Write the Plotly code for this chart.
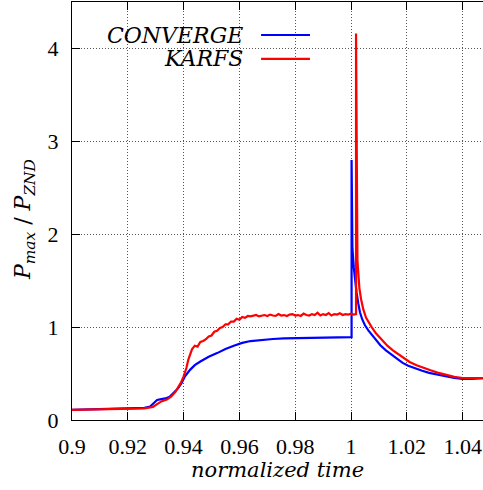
import plotly.graph_objects as go

# CONVERGE: normalized time vs peak pressure ratio
t_converge = [0.900, 0.910, 0.920, 0.926, 0.928, 0.9295, 0.9305, 0.932, 0.9335, 0.935,
              0.9365, 0.938, 0.9393, 0.9405, 0.9423, 0.944, 0.946, 0.949, 0.952, 0.955,
              0.958, 0.961, 0.964, 0.968, 0.972, 0.976, 0.982, 0.990, 0.9995, 1.0002,
              1.0002, 1.0005, 1.0010, 1.0015, 1.0020, 1.0026, 1.0032, 1.0040, 1.0050,
              1.0062, 1.0075, 1.0090, 1.0105, 1.0125, 1.0145, 1.0165, 1.0185, 1.0205,
              1.0230, 1.0255, 1.0280, 1.0310, 1.0340, 1.0370, 1.0400, 1.0430, 1.0475]
p_converge = [0.110, 0.115, 0.122, 0.130, 0.145, 0.190, 0.215, 0.225, 0.232, 0.250,
              0.290, 0.340, 0.400, 0.470, 0.540, 0.590, 0.630, 0.680, 0.720, 0.765,
              0.800, 0.830, 0.850, 0.865, 0.872, 0.878, 0.883, 0.888, 0.892, 0.892,
              2.800, 1.850, 1.640, 1.490, 1.370, 1.255, 1.160, 1.085, 1.020,
              0.965, 0.915, 0.860, 0.805, 0.750, 0.705, 0.650, 0.615, 0.585,
              0.555, 0.530, 0.508, 0.487, 0.466, 0.452, 0.443, 0.442, 0.450]

# KARFS: normalized time vs peak pressure ratio
t_karfs = [0.900, 0.910, 0.920, 0.926, 0.929, 0.9305, 0.932, 0.934, 0.9355, 0.937,
           0.938, 0.939, 0.940, 0.941, 0.9417, 0.9425,
           0.943, 0.944, 0.945, 0.946, 0.947, 0.948, 0.949, 0.950, 0.951, 0.952,
           0.953, 0.954, 0.955, 0.956, 0.957, 0.958, 0.959, 0.960, 0.961, 0.962,
           0.963, 0.964, 0.965, 0.966, 0.967, 0.968, 0.969, 0.970, 0.971, 0.972,
           0.973, 0.974, 0.975, 0.976, 0.977, 0.978, 0.979, 0.980, 0.981, 0.982,
           0.983, 0.984, 0.985, 0.986, 0.987, 0.988, 0.989, 0.990, 0.991, 0.992,
           0.993, 0.994, 0.995, 0.996, 0.997, 0.998, 0.999, 1.000, 1.001, 1.0018,
           1.0018, 1.0023, 1.0026, 1.0030, 1.0036, 1.0044, 1.0054, 1.0065, 1.0074,
           1.0090, 1.0110, 1.0130, 1.0150, 1.0170, 1.0190, 1.0210, 1.0235, 1.0260,
           1.0285, 1.0310, 1.0340, 1.0370, 1.0400, 1.0430, 1.0475]
p_karfs = [0.110, 0.113, 0.118, 0.125, 0.140, 0.170, 0.200, 0.220, 0.250, 0.300,
           0.350, 0.400, 0.470, 0.560, 0.650, 0.720,
           0.760, 0.800, 0.790, 0.840, 0.850, 0.870, 0.900, 0.910, 0.950, 0.960,
           0.990, 1.000, 1.030, 1.030, 1.060, 1.060, 1.090, 1.080, 1.110, 1.100,
           1.120, 1.115, 1.120, 1.130, 1.115, 1.125, 1.130, 1.120, 1.135, 1.125,
           1.120, 1.140, 1.125, 1.130, 1.120, 1.135, 1.140, 1.125, 1.130, 1.120,
           1.145, 1.130, 1.125, 1.140, 1.130, 1.155, 1.125, 1.140, 1.130, 1.150,
           1.125, 1.140, 1.135, 1.150, 1.130, 1.140, 1.135, 1.145, 1.135, 1.140,
           4.160, 1.720, 1.550, 1.420, 1.300, 1.190, 1.100, 1.040, 1.000,
           0.930, 0.860, 0.800, 0.750, 0.705, 0.665, 0.625, 0.590, 0.560,
           0.535, 0.510, 0.485, 0.465, 0.452, 0.448, 0.450]

x_ticks = [0.9, 0.92, 0.94, 0.96, 0.98, 1.0, 1.02, 1.04]
x_tick_text = ["0.9", "0.92", "0.94", "0.96", "0.98", "1", "1.02", "1.04"]
y_ticks = [0, 1, 2, 3, 4]
y_tick_text = ["0", "1", "2", "3", "4"]

series_names = ["CONVERGE", "KARFS"]
series_colors = ["#0000ff", "#ff0000"]

serif = "'Liberation Serif', 'Times New Roman', serif"
serif_it = "'DejaVu Serif', 'Liberation Serif', serif"

fig = go.Figure()
fig.add_trace(go.Scatter(x=t_converge, y=p_converge, mode="lines",
                         line=dict(color=series_colors[0], width=2.2),
                         name=series_names[0], showlegend=False))
fig.add_trace(go.Scatter(x=t_karfs, y=p_karfs, mode="lines",
                         line=dict(color=series_colors[1], width=2.2),
                         name=series_names[1], showlegend=False))

axis_common = dict(
    showline=True, linecolor="black", linewidth=1.2,
    ticks="inside", ticklen=8, tickcolor="black", tickwidth=1,
    showgrid=True, gridcolor="#555555", griddash="1px,2px", gridwidth=1,
    zeroline=False,
    tickfont=dict(family=serif, size=22, color="black"),
)

fig.update_xaxes(range=[0.9, 1.0473], tickvals=x_ticks, ticktext=x_tick_text,
                 mirror="ticks", ticklabelstandoff=6, **axis_common)
fig.update_yaxes(range=[0, 4.5], tickvals=y_ticks, ticktext=y_tick_text,
                 mirror=False, ticklabelstandoff=8, **axis_common)

# opaque key area
fig.add_shape(type="rect", xref="paper", yref="paper",
              x0=0.148, x1=0.611, y0=0.835, y1=0.952,
              fillcolor="white", line=dict(width=0), layer="between")

# key entries: label on the left, line sample on the right
key_y = [0.921, 0.864]
for name, color, ky in zip(series_names, series_colors, key_y):
    fig.add_annotation(x=0.421, y=ky, xref="paper", yref="paper",
                       text="<i>" + name + "</i>", showarrow=False,
                       xanchor="right", yanchor="middle",
                       font=dict(family=serif_it, size=22, color="black"))
    fig.add_shape(type="line", xref="paper", yref="paper",
                  x0=0.46, x1=0.579, y0=ky, y1=ky,
                  line=dict(color=color, width=2.2))

# axis titles
fig.add_annotation(x=0.499, y=-0.12, xref="paper", yref="paper",
                   text="<i>normalized time</i>", showarrow=False,
                   xanchor="center", yanchor="middle",
                   font=dict(family=serif_it, size=21, color="black"))
fig.add_annotation(x=-0.115, y=0.48, xref="paper", yref="paper",
                   text="<i>P</i><sub><i>max</i></sub> / <i>P</i><sub><i>ZND</i></sub>",
                   showarrow=False, textangle=-90,
                   xanchor="center", yanchor="middle",
                   font=dict(family=serif_it, size=22, color="black"))

fig.update_layout(width=483, height=490,
                  margin=dict(l=72, r=0, t=2, b=70),
                  plot_bgcolor="white", paper_bgcolor="white",
                  showlegend=False)

fig.write_html("out.html")
